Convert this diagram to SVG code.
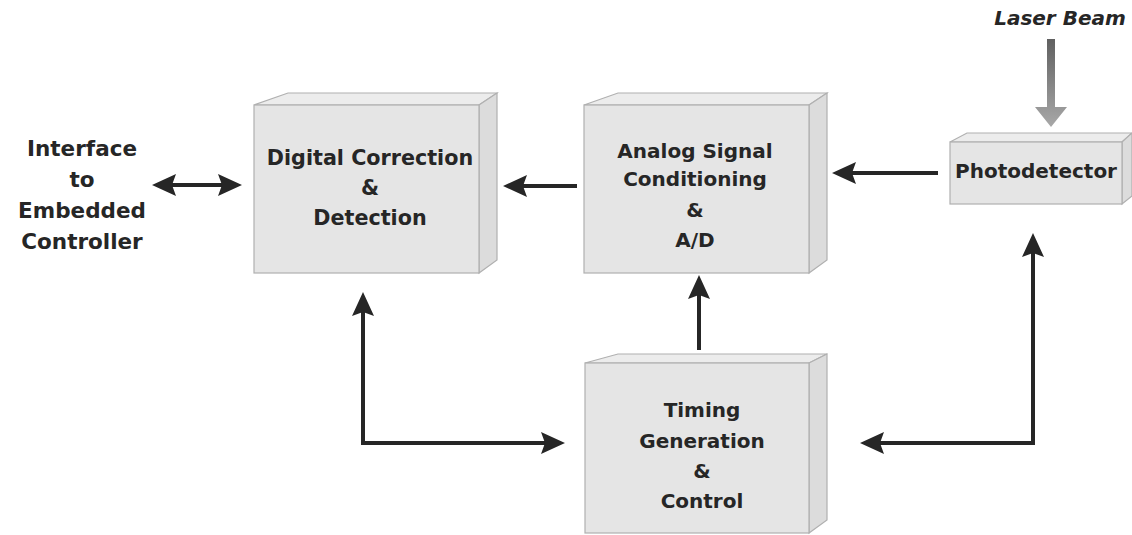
<svg xmlns="http://www.w3.org/2000/svg" width="1132" height="535" viewBox="0 0 1132 535">
<style>
.front{fill:#e5e5e5;stroke:#b0b0b0;stroke-width:1.2}
.top{fill:#ececec;stroke:#b0b0b0;stroke-width:1.2}
.side{fill:#dcdcdc;stroke:#b0b0b0;stroke-width:1.2}
.t{font-family:"DejaVu Sans","Liberation Sans",sans-serif;font-weight:bold;font-size:20px;fill:#262626;text-anchor:middle}
.big{font-size:21.5px}
.mid{font-size:20.7px}
.it{font-style:italic}
.c{fill:none;stroke:#262626;stroke-width:4}
</style>
<defs>
<marker id="ah" viewBox="0 0 24 22" refX="12" refY="11" markerWidth="24" markerHeight="22" markerUnits="userSpaceOnUse" orient="auto-start-reverse">
<path d="M0,0 L24,11 L0,22 L4,11 z" fill="#262626"/>
</marker>
<linearGradient id="lg" x1="0" y1="0" x2="0" y2="1">
<stop offset="0" stop-color="#606060"/>
<stop offset="1" stop-color="#a8a8a8"/>
</linearGradient>
</defs>
<rect width="1132" height="535" fill="#fff"/>

<g id="interface">
<text class="t big" x="82" y="156">Interface</text>
<text class="t big" x="82" y="187">to</text>
<text class="t big" x="82" y="218">Embedded</text>
<text class="t big" x="82" y="249">Controller</text>
</g>

<g id="laser">
<text class="t it" x="1060" y="25">Laser Beam</text>
<polygon points="1047,39 1055,39 1055,107 1067,107 1051,127 1035,107 1047,107" fill="url(#lg)"/>
</g>

<g id="digital">
<polygon class="top" points="254,105 288,93 497,93 479,105"/>
<polygon class="side" points="479,105 497,93 497,260 479,273"/>
<rect class="front" x="254" y="105" width="225" height="168"/>
<text class="t mid" x="370" y="165">Digital Correction</text>
<text class="t mid" x="370" y="195">&amp;</text>
<text class="t mid" x="370" y="225">Detection</text>
</g>

<g id="analog">
<polygon class="top" points="584,105 618,93 827,93 809,105"/>
<polygon class="side" points="809,105 827,93 827,260 809,273"/>
<rect class="front" x="584" y="105" width="225" height="168"/>
<text class="t" x="695" y="158">Analog Signal</text>
<text class="t" x="695" y="186">Conditioning</text>
<text class="t" x="695" y="217">&amp;</text>
<text class="t" x="695" y="247">A/D</text>
</g>

<g id="photodetector">
<polygon class="top" points="950,142 967,133 1132,133 1122,142"/>
<polygon class="side" points="1122,142 1132,133 1132,196 1122,204"/>
<rect class="front" x="950" y="142" width="172" height="62"/>
<text class="t" x="1036" y="178">Photodetector</text>
</g>

<g id="timing">
<polygon class="top" points="585,363 618,354 827,354 809,363"/>
<polygon class="side" points="809,363 827,354 827,520 809,533"/>
<rect class="front" x="585" y="363" width="224" height="170"/>
<text class="t" x="702" y="417">Timing</text>
<text class="t" x="702" y="448">Generation</text>
<text class="t" x="702" y="478">&amp;</text>
<text class="t" x="702" y="508">Control</text>
</g>

<g id="connectors">
<line class="c" x1="164" y1="185" x2="230" y2="185" marker-start="url(#ah)" marker-end="url(#ah)"/>
<line class="c" x1="577" y1="186" x2="515" y2="186" marker-end="url(#ah)"/>
<line class="c" x1="938" y1="173" x2="844" y2="173" marker-end="url(#ah)"/>
<line class="c" x1="699" y1="350" x2="699" y2="287" marker-end="url(#ah)"/>
<polyline class="c" points="363,304 363,443 553,443" marker-start="url(#ah)" marker-end="url(#ah)"/>
<polyline class="c" points="1033,245 1033,443 872,443" marker-start="url(#ah)" marker-end="url(#ah)"/>
</g>
</svg>
